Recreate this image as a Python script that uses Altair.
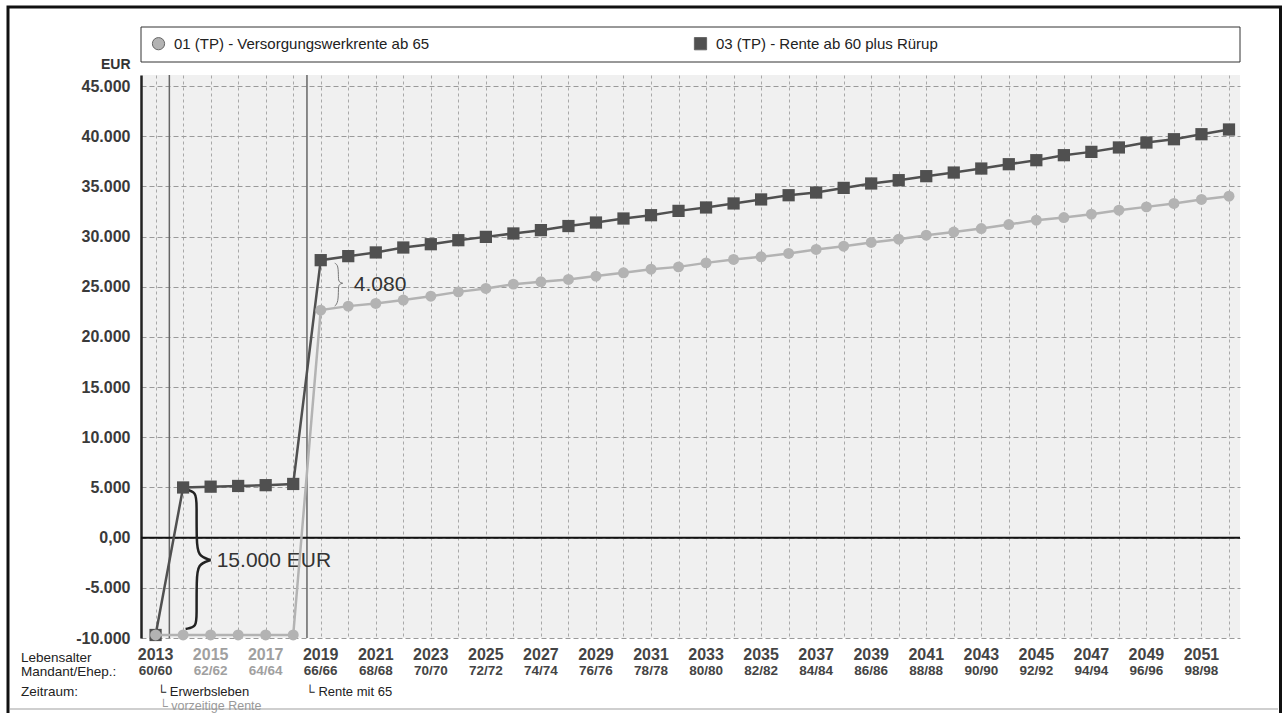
import altair as alt
import pandas as pd

S1 = "01 (TP) - Versorgungswerkrente ab 65"
S3 = "03 (TP) - Rente ab 60 plus Rürup"

years = [2013, 2014, 2015, 2016, 2017, 2018, 2019, 2020, 2021, 2022,
         2023, 2024, 2025, 2026, 2027, 2028, 2029, 2030, 2031, 2032,
         2033, 2034, 2035, 2036, 2037, 2038, 2039, 2040, 2041, 2042,
         2043, 2044, 2045, 2046, 2047, 2048, 2049, 2050, 2051, 2052]

vals_01 = [-9700, -9700, -9700, -9700, -9700, -9700, 22670, 23070, 23340, 23670,
           24060, 24490, 24830, 25260, 25490, 25730, 26060, 26390, 26750, 26980,
           27380, 27720, 27980, 28320, 28720, 29040, 29410, 29740, 30140, 30450,
           30800, 31200, 31630, 31900, 32230, 32630, 32960, 33300, 33700, 34020]

vals_03 = [-9700, 5000, 5080, 5150, 5230, 5350, 27650, 28050, 28420, 28910,
           29240, 29640, 29970, 30310, 30640, 31050, 31400, 31800, 32130, 32560,
           32900, 33300, 33700, 34120, 34390, 34850, 35290, 35620, 36020, 36380,
           36780, 37210, 37610, 38110, 38440, 38880, 39370, 39700, 40200, 40670]

label_years = [2013, 2015, 2017, 2019, 2021, 2023, 2025, 2027, 2029, 2031,
               2033, 2035, 2037, 2039, 2041, 2043, 2045, 2047, 2049, 2051]
label_ages = ["60/60", "62/62", "64/64", "66/66", "68/68", "70/70", "72/72",
              "74/74", "76/76", "78/78", "80/80", "82/82", "84/84", "86/86",
              "88/88", "90/90", "92/92", "94/94", "96/96", "98/98"]

y_ticks = [-10000, -5000, 0, 5000, 10000, 15000, 20000, 25000, 30000, 35000, 40000, 45000]

phase_bounds = [2013.5, 2018.5]

# brace annotation paths (data units)
brace1_year = [2014.05, 2014.49, 2014.49, 2014.49, 2014.53, 2015.0,
               2015.0, 2014.53, 2014.49, 2014.49, 2014.49, 2014.09]
brace1_val = [4840, 4540, 3250, -240, -1830, -2230,
              -2230, -2630, -4220, -7710, -8900, -9100]
brace1_part = ["a"] * 6 + ["b"] * 6

brace2_year = [2019.51, 2019.64, 2019.64, 2019.66, 2019.80,
               2019.80, 2019.66, 2019.64, 2019.64, 2019.51]
brace2_val = [27350, 27150, 25850, 25450, 25350,
              25350, 25250, 24860, 23460, 23060]
brace2_part = ["a"] * 5 + ["b"] * 5

FONT = "Liberation Sans"
W, H = 1099, 563
COL01, COL03 = "#b3b3b3", "#505050"

df = pd.DataFrame({
    "year": years * 2,
    "value": vals_01 + vals_03,
    "series": [S1] * len(years) + [S3] * len(years),
})
df01 = df[df.series == S1]
df03 = df[df.series == S3]

X = alt.X("year:Q",
          scale=alt.Scale(domain=[2012.47, 2052.4], nice=False, zero=False),
          axis=alt.Axis(values=years, labels=False, ticks=False, domain=False,
                        grid=True, gridDash=[3, 3], gridColor="#a8a8a8",
                        gridWidth=1, title=None))
Y = alt.Y("value:Q",
          scale=alt.Scale(domain=[-10000, 46100], nice=False, zero=False),
          axis=alt.Axis(values=y_ticks, ticks=False, domain=True,
                        domainColor="#222", domainWidth=2.5,
                        grid=True, gridDash=[5, 3], gridColor="#9a9a9a", gridWidth=1,
                        labelExpr="datum.value == 0 ? '0,00' : (datum.value < 0 ? '-' : '') + replace(format(abs(datum.value), ','), ',', '.')",
                        labelFont=FONT, labelFontSize=16, labelFontWeight="bold",
                        labelColor="#3a3a3a", labelPadding=11,
                        title="EUR", titleAngle=0, titleX=-11, titleY=-11,
                        titleAlign="right", titleBaseline="middle",
                        titleFont=FONT, titleFontSize=14, titleFontWeight="bold",
                        titleColor="#333"))

color_scale = alt.Scale(domain=[S1, S3], range=[COL01, COL03])
shape_scale = alt.Scale(domain=[S1, S3], range=["circle", "square"])
leg = alt.Legend(orient="none", legendX=10, legendY=-39, direction="horizontal",
                 title=None, labelFont=FONT, labelFontSize=15, labelColor="#222",
                 labelLimit=500,
                 symbolSize=150, symbolStrokeColor="#666", symbolStrokeWidth=1,
                 columnPadding=262, labelOffset=8, padding=0)

one = pd.DataFrame({"k": [0]})

frame = alt.Chart(one).mark_rect(filled=False, stroke="#111", strokeWidth=3).encode(
    x=alt.value(-133), x2=alt.value(1139.5), y=alt.value(-68), y2=alt.value(700))
frame_bottom = alt.Chart(one).mark_rule(color="#cfcfcf", strokeWidth=2).encode(
    x=alt.value(-131), x2=alt.value(1137), y=alt.value(634))
legend_box = alt.Chart(one).mark_rect(fill="white", stroke="#333", strokeWidth=1).encode(
    x=alt.value(0), x2=alt.value(W), y=alt.value(-48), y2=alt.value(-13))

seps = alt.Chart(pd.DataFrame({"year": phase_bounds})).mark_rule(
    color="#666", strokeWidth=1.5).encode(x=X)
zero = alt.Chart(pd.DataFrame({"value": [0]})).mark_rule(
    color="#111", strokeWidth=2).encode(y=Y)

b1 = pd.DataFrame({"year": brace1_year, "value": brace1_val, "part": brace1_part,
                   "ord": list(range(len(brace1_year)))})
b2 = pd.DataFrame({"year": brace2_year, "value": brace2_val, "part": brace2_part,
                   "ord": list(range(len(brace2_year)))})
brace1 = alt.Chart(b1).mark_line(interpolate="basis", color="#222", strokeWidth=2.5).encode(
    x=X, y=Y, detail="part:N", order="ord:Q")
brace2 = alt.Chart(b2).mark_line(interpolate="basis", color="#777", strokeWidth=1).encode(
    x=X, y=Y, detail="part:N", order="ord:Q")

ann = pd.DataFrame({"year": [2015.22, 2020.2], "value": [-2330, 25150],
                    "txt": ["15.000 EUR", "4.080"]})
ann_text = alt.Chart(ann).mark_text(align="left", baseline="middle", font=FONT,
                                    fontSize=21, color="#333").encode(
    x=X, y=Y, text="txt:N")

def series_layers(d, col, size):
    line = alt.Chart(d).mark_line(strokeWidth=2.5, color=col).encode(x=X, y=Y)
    pts = alt.Chart(d).mark_point(filled=True, opacity=1, size=size).encode(
        x=X, y=Y,
        color=alt.Color("series:N", scale=color_scale, legend=leg),
        shape=alt.Shape("series:N", scale=shape_scale, legend=leg))
    return [line, pts]

lbl = pd.DataFrame({"year": label_years, "age": label_ages})
muted = "datum.year == 2015 || datum.year == 2017"
year_text = alt.Chart(lbl).mark_text(font=FONT, fontSize=16, fontWeight="bold",
                                     baseline="middle").encode(
    x=X, y=alt.value(H + 17), text="year:N",
    color=alt.condition(muted, alt.value("#a0a0a0"), alt.value("#444")))
age_text = alt.Chart(lbl).mark_text(font=FONT, fontSize=13.5, fontWeight="bold",
                                    baseline="middle").encode(
    x=X, y=alt.value(H + 33), text="age:N",
    color=alt.condition(muted, alt.value("#a0a0a0"), alt.value("#444")))

def left_label(txt, yy, size=13.5, col="#222"):
    return alt.Chart(one).mark_text(text=txt, align="left", baseline="middle",
                                    font=FONT, fontSize=size, color=col).encode(
        x=alt.value(-120), y=alt.value(yy))

zr1 = pd.DataFrame({"year": [2013.05, 2018.45],
                    "txt": ["└ Erwerbsleben", "└ Rente mit 65"]})
zr2 = pd.DataFrame({"year": [2013.12], "txt": ["└ vorzeitige Rente"]})
zr1_text = alt.Chart(zr1).mark_text(align="left", baseline="middle", font=FONT,
                                    fontSize=13, color="#222").encode(
    x=X, y=alt.value(H + 54), text="txt:N")
zr2_text = alt.Chart(zr2).mark_text(align="left", baseline="middle", font=FONT,
                                    fontSize=12.5, color="#999").encode(
    x=X, y=alt.value(H + 68), text="txt:N")

layers = [frame, frame_bottom, legend_box, seps, zero, brace1, brace2, ann_text]
layers += series_layers(df03, COL03, 150)
layers += series_layers(df01, COL01, 120)
layers += [year_text, age_text,
           left_label("Lebensalter", H + 20),
           left_label("Mandant/Ehep.:", H + 34),
           left_label("Zeitraum:", H + 54),
           zr1_text, zr2_text]

chart = alt.layer(*layers).properties(
    width=W, height=H,
    autosize=alt.AutoSizeParams(type="none"),
    padding={"left": 141, "top": 75, "right": 42, "bottom": 75},
    background="white",
).configure_view(fill="#f0f0f0", stroke=None)

chart.save("out.html", embed_options={"renderer": "svg", "actions": False})
